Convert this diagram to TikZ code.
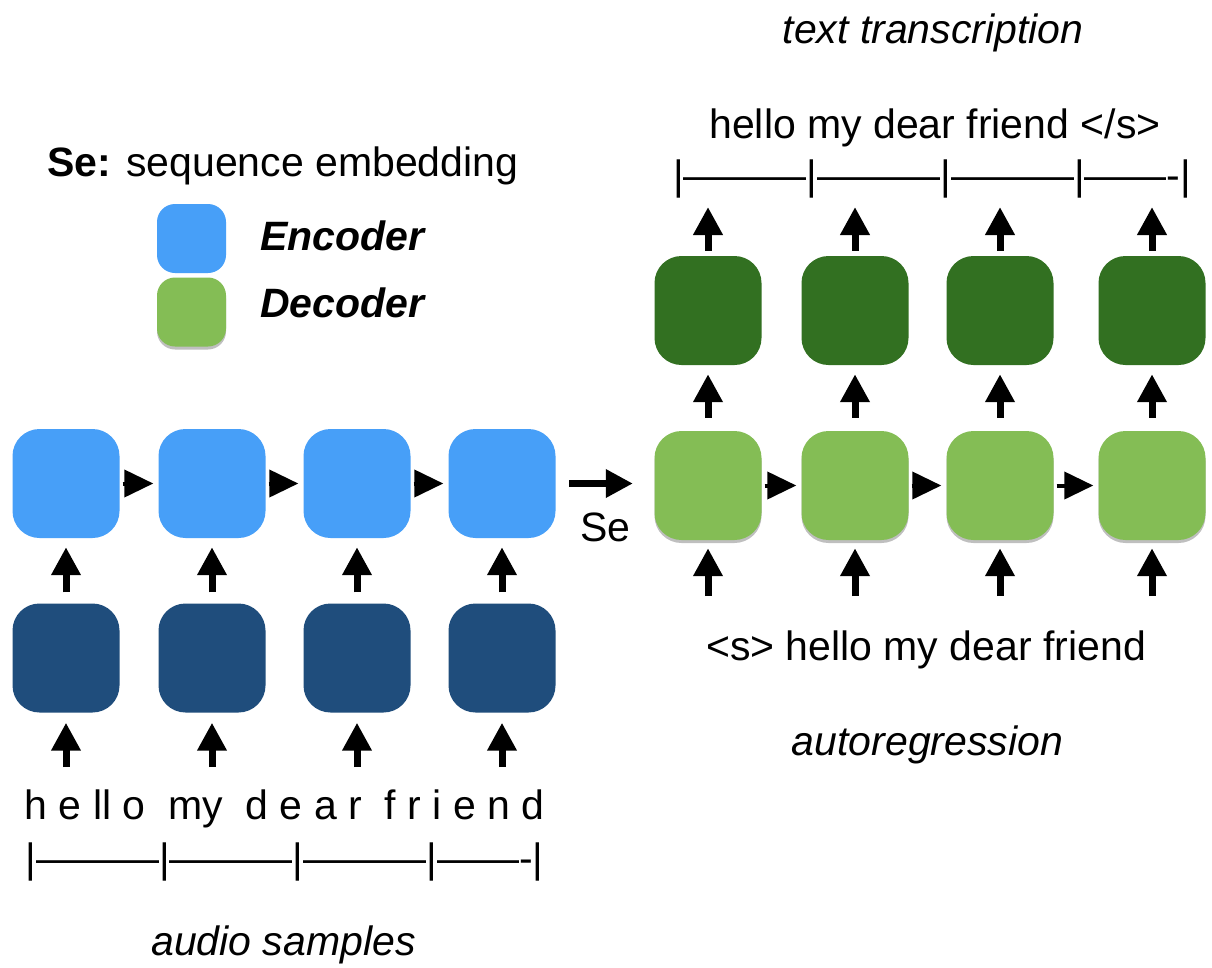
\documentclass[tikz,border=0pt]{standalone}
\usepackage{fontspec}
\setmainfont{Liberation Sans}
\usetikzlibrary{arrows.meta,shadows}

\definecolor{encLight}{HTML}{479FF8}
\definecolor{encDark}{HTML}{1F4D7C}
\definecolor{decLight}{HTML}{84BD55}
\definecolor{decDark}{HTML}{327021}

\begin{document}
\begin{tikzpicture}[x=1pt,y=-1pt,
  cell/.style={minimum width=107pt, minimum height=109pt, rounded corners=27pt,
    inner sep=0pt, draw=none},
  softshadow/.style={drop shadow={shadow xshift=0pt, shadow yshift=-3pt,
    opacity=0.25, fill=black}},
  encA/.style={cell, fill=encLight},
  encB/.style={cell, fill=encDark},
  decA/.style={cell, fill=decLight, softshadow},
  decB/.style={cell, fill=decDark},
  keybox/.style={cell, minimum width=69pt, minimum height=69pt, rounded corners=18pt},
  txt/.style={font=\fontsize{41}{48}\selectfont, inner sep=0pt, anchor=base},
  uparrow/.style={line width=7pt, -{Triangle[width=28pt,length=28pt]}},
  rightarrow/.style={line width=4pt, -{Triangle[width=27pt,length=29pt]},
    shorten <=3pt, shorten >=5pt},
]
\fill[white] (0,0) rectangle (1212,967);
\useasboundingbox (0,0) rectangle (1212,967);

% legend
\node[txt, anchor=base west] (legend) at (47,176) {\textbf{Se:} sequence embedding};
\node[keybox, fill=encLight] (keyenc) at (191.5,238.5) {};
\node[keybox, fill=decLight, softshadow] (keydec) at (191.5,312) {};
\node[txt, anchor=base west] (keyenctxt) at (260,250) {\textbf{\textit{Encoder}}};
\node[txt, anchor=base west] (keydectxt) at (260,317) {\textbf{\textit{Decoder}}};

% encoder: audio frames -> recurrent encoder
\foreach \i/\x in {1/66,2/212,3/357,4/502} {
  \node[encA] (e\i) at (\x,483.5) {};
  \node[encB] (b\i) at (\x,658) {};
  \coordinate (bin\i) at (\x,767);
}
\foreach \i in {1,...,4} {
  \draw[uparrow, shorten >=10pt] (bin\i) -- (b\i.south);
  \draw[uparrow, shorten <=11pt, shorten >=9pt] (b\i.north) -- (e\i.south);
}
\draw[rightarrow] (e1.east) -- (e2.west);
\draw[rightarrow] (e2.east) -- (e3.west);
\draw[rightarrow] (e3.east) -- (e4.west);

% decoder: autoregressive tokens -> output tokens
\foreach \i/\x in {1/708,2/855,3/1000,4/1152} {
  \node[decA] (d\i) at (\x,485.5) {};
  \node[decB] (g\i) at (\x,310.5) {};
  \coordinate (din\i) at (\x,596);
  \coordinate (gout\i) at (\x,207);
}
\foreach \i in {1,...,4} {
  \draw[uparrow, shorten >=8pt] (din\i) -- (d\i.south);
  \draw[uparrow, shorten <=13pt, shorten >=9pt] (d\i.north) -- (g\i.south);
  \draw[uparrow, shorten <=5pt] (g\i.north) -- (gout\i);
}
\draw[rightarrow] (d1.east) -- (d2.west);
\draw[rightarrow] (d2.east) -- (d3.west);
\draw[rightarrow] (d3.east) -- (d4.west);

% sequence embedding handed to the decoder
\draw[line width=6.5pt, -{Triangle[width=27pt,length=27pt]},
  shorten <=13.5pt, shorten >=21.5pt] (e4.east) -- (e4.east -| d1.west);
\node[txt] (selabel) at (605.5,541) {Se};

% texts
\node[txt] (title) at (933,43) {\textit{text transcription}};
\node[txt] (outtext) at (935,138) {hello my dear friend </s>};
\node[txt] (outbar) at (932,189) {|———|———|———|——-|};
\node[txt] (intext) at (926,660) {<s> hello my dear friend};
\node[txt] (autoreg) at (927.5,755) {\textit{autoregression}};
\node[txt] (letters) at (284.5,819) {h e ll o~~my~~d e a r~~f r i e n d};
\node[txt] (inbar) at (284.5,872) {|———|———|———|——-|};
\node[txt] (audio) at (283.5,955) {\textit{audio samples}};
\end{tikzpicture}
\end{document}
